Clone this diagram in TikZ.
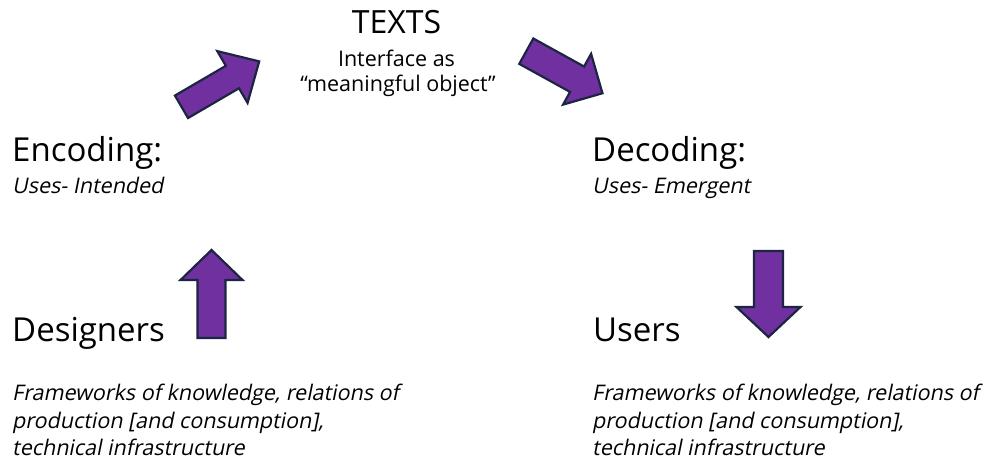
\documentclass[tikz,border=0pt]{standalone}
\usepackage{fontspec}
\setmainfont{Open Sans}
\newfontfamily\slantfont{Open Sans}[FakeSlant=0.2]
\definecolor{arrfill}{HTML}{7030A0}
\definecolor{arrdraw}{HTML}{1C2541}
\tikzset{
  big/.style={anchor=base west, inner sep=0pt, font=\fontsize{33}{38}\selectfont},
  sub/.style={anchor=base west, inner sep=0pt, font=\fontsize{21.5}{27}\selectfont\slantfont},
  body/.style={anchor=base west, inner sep=0pt, font=\fontsize{21.5}{27}\selectfont\slantfont},
  top/.style={anchor=base, inner sep=0pt, font=\fontsize{21.5}{27}\selectfont},
  fat/.style={fill=arrfill, draw=arrdraw, line width=2.2pt, line join=miter}
}
\newcommand{\fatarrow}[7]{% x y angle L H W S
  \begin{scope}[shift={(#1,#2)}, rotate=#3]
    \filldraw[fat] (0,#7) -- ({#4-#5},#7) -- ({#4-#5},#6) -- (#4,0) -- ({#4-#5},-#6) -- ({#4-#5},-#7) -- (0,-#7) -- cycle;
  \end{scope}}
\begin{document}
\begin{tikzpicture}[x=1pt,y=-1pt]
\useasboundingbox[fill=white] (0,0) rectangle (987,463);
% top
\node[anchor=base, inner sep=0pt, font=\fontsize{32}{36}\selectfont] (texts) at (396.5,33.5) {TEXTS};
\node[top] (iface) at (396.5,66.5) {Interface as};
\node[top] (mobj) at (398,91.5) {“meaningful object”};
% left
\node[big] (enc) at (12,161.5) {Encoding:};
\node[sub] (encu) at (12,193) {Uses- Intended};
\node[big] (des) at (12,341.5) {Designers};
\node[body] (desb1) at (12,400) {Frameworks of knowledge, relations of};
\node[body] (desb2) at (12,428) {production [and consumption],};
\node[body] (desb3) at (12,455.5) {technical infrastructure};
% right
\node[big] (dec) at (592,161.5) {Decoding:};
\node[sub] (decu) at (592,193) {Uses- Emergent};
\node[big] (usr) at (593,341.5) {Users};
\node[body] (usrb1) at (592,400) {Frameworks of knowledge, relations of};
\node[body] (usrb2) at (592,428) {production [and consumption],};
\node[body] (usrb3) at (592,455.5) {technical infrastructure};
% arrows
\fatarrow{211.5}{338}{90}{88}{30}{31}{14}
\fatarrow{768.5}{251}{-90}{86}{30}{32}{14.5}
\fatarrow{181.5}{106.8}{30.3}{90}{31}{30}{13}
\fatarrow{526.3}{51.2}{-28.9}{87}{29}{29}{14.5}
\end{tikzpicture}
\end{document}
